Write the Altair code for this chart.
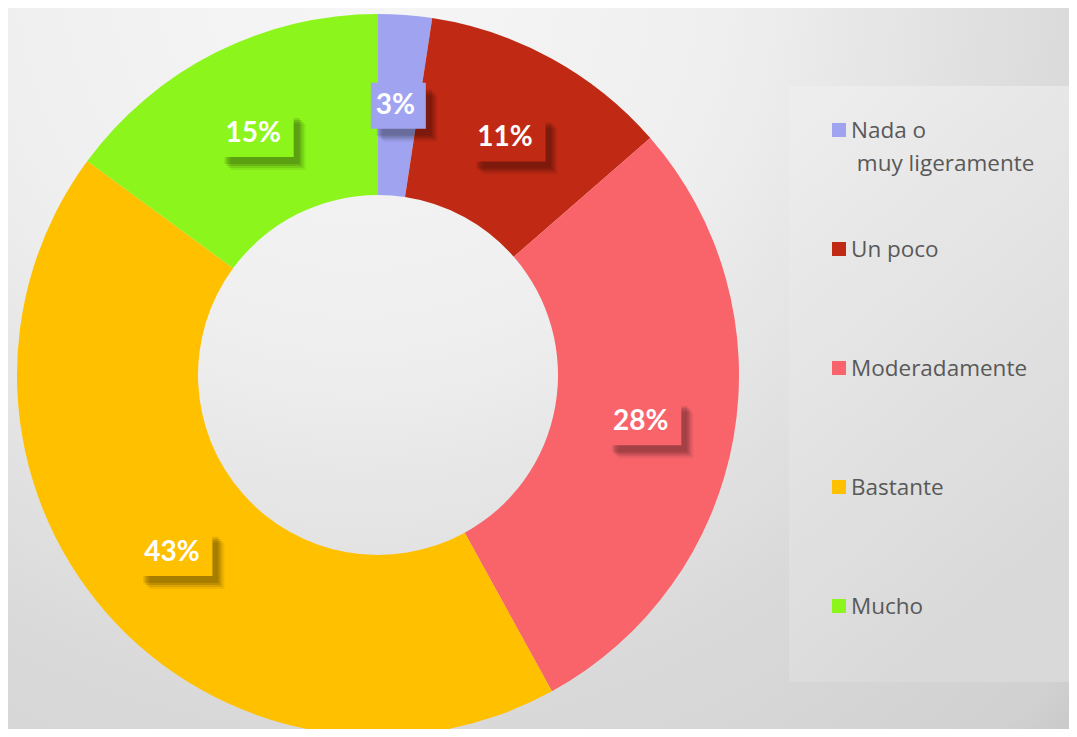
import altair as alt
import pandas as pd

# ---- data ----
categories = ["Nada o muy ligeramente", "Un poco", "Moderadamente", "Bastante", "Mucho"]
legend_labels = ["Nada o\n\u200b\u00a0muy ligeramente", "Un poco", "Moderadamente", "Bastante", "Mucho"]
values = [2.4, 11.2, 28.4, 43.1, 14.9]
labels = ["3%", "11%", "28%", "43%", "15%"]
colors = ["#A0A4F0", "#C02A14", "#F9646B", "#FFC000", "#8CF51C"]

# ---- layout ----
W, H = 1061, 721
CX, CY = 370, 367
R_OUT, R_IN = 361, 180
R_LAB = 270
BOX_H = 46

df = pd.DataFrame({
    "cat": categories,
    "leg": legend_labels,
    "v": values,
    "label": labels,
    "order": list(range(len(categories))),
})

color_scale = alt.Scale(domain=categories, range=colors)

bg = alt.Chart(pd.DataFrame({"a": [0]})).mark_rect(
    fill=alt.Gradient(
        gradient="radial",
        x1=0.33, y1=0.13, r1=0,
        x2=0.33, y2=0.13, r2=1,
        stops=[
            alt.GradientStop(color="#f6f6f6", offset=0),
            alt.GradientStop(color="#efefef", offset=0.35),
            alt.GradientStop(color="#dadada", offset=0.68),
            alt.GradientStop(color="#d1d1d1", offset=0.93),
            alt.GradientStop(color="#c6c6c6", offset=1),
        ],
    )
).encode(x=alt.value(0), x2=alt.value(W), y=alt.value(0), y2=alt.value(H))

donut = alt.Chart(df).mark_arc(innerRadius=R_IN, outerRadius=R_OUT).encode(
    theta=alt.Theta("v:Q", stack=True),
    color=alt.Color("cat:N", scale=color_scale, legend=None),
    order=alt.Order("order:Q"),
    x=alt.value(CX),
    y=alt.value(CY),
)

pos = alt.Chart(df).transform_window(
    cum="sum(v)", sort=[alt.SortField("order")], frame=[None, 0]
).transform_joinaggregate(
    tot="sum(v)"
).transform_calculate(
    mid="(datum.cum - datum.v/2) / datum.tot * 2 * PI",
    lx="sin(datum.mid)",
    ly="cos(datum.mid)",
    hw=f"(10 * length(datum.label) + 7.5) / {R_LAB}",
    hh=f"{BOX_H/2} / {R_LAB}",
    x0="datum.lx - datum.hw",
    x1="datum.lx + datum.hw",
    y0="datum.ly - datum.hh",
    y1="datum.ly + datum.hh",
)

xs = alt.Scale(domain=[-1, 1], range=[CX - R_LAB, CX + R_LAB], zero=False, nice=False)
ys = alt.Scale(domain=[-1, 1], range=[CY + R_LAB, CY - R_LAB], zero=False, nice=False)

shadows = []
for off, op in [(12, 0.06), (10, 0.09), (8, 0.12), (6, 0.12)]:
    shadows.append(
        pos.mark_rect(fill="black", opacity=op, xOffset=off, yOffset=off + 1,
                      x2Offset=off, y2Offset=off + 1).encode(
            x=alt.X("x0:Q", scale=xs, axis=None),
            x2="x1:Q",
            y=alt.Y("y0:Q", scale=ys, axis=None),
            y2="y1:Q",
        )
    )

boxes = pos.mark_rect().encode(
    x=alt.X("x0:Q", scale=xs, axis=None),
    x2="x1:Q",
    y=alt.Y("y0:Q", scale=ys, axis=None),
    y2="y1:Q",
    color=alt.Color("cat:N", scale=color_scale, legend=None),
)

texts = pos.mark_text(font="Lato", fontSize=28, fontWeight="bold", color="white",
                      align="center", baseline="middle", dx=-3, dy=0).encode(
    x=alt.X("lx:Q", scale=xs, axis=None),
    y=alt.Y("ly:Q", scale=ys, axis=None),
    text="label:N",
)

legbox = alt.Chart(pd.DataFrame({"a": [0]})).mark_rect(
    fill=alt.Gradient(
        gradient="linear", x1=0, y1=0, x2=0.4, y2=1,
        stops=[
            alt.GradientStop(color="#eeeeee", offset=0),
            alt.GradientStop(color="#d9d9d9", offset=1),
        ],
    )
).encode(x=alt.value(781), x2=alt.value(W), y=alt.value(78), y2=alt.value(674))

ly_scale = alt.Scale(type="point", domain=categories, range=[122, 598], padding=0)

leg_sq = alt.Chart(df).mark_square(size=196, opacity=1).encode(
    x=alt.value(831),
    y=alt.Y("cat:N", scale=ly_scale, axis=None),
    color=alt.Color("cat:N", scale=color_scale, legend=None),
)

leg_txt = alt.Chart(df).mark_text(
    font="Open Sans", fontSize=22.5, color="#595959", align="left",
    baseline="alphabetic", dy=8, lineBreak="\n", lineHeight=33,
).encode(
    x=alt.value(843),
    y=alt.Y("cat:N", scale=ly_scale, axis=None),
    text="leg:N",
)

chart = alt.layer(
    bg, donut, *shadows, boxes, texts, legbox, leg_sq, leg_txt
).resolve_scale(
    x="independent", y="independent"
).properties(
    width=W, height=H, autosize=alt.AutoSizeParams(type="none"), padding=0
).configure_view(stroke=None)

chart.save("out.html", embed_options={"renderer": "svg", "actions": False})
